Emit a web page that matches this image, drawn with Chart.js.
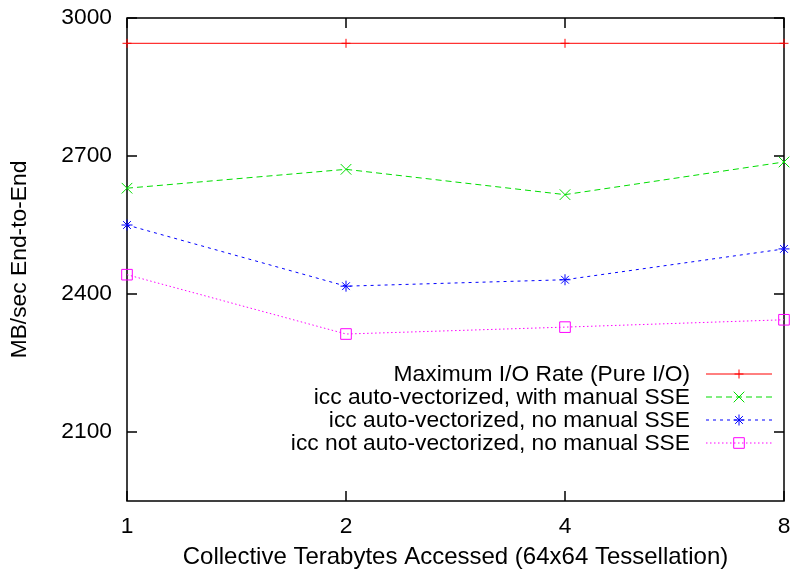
<!DOCTYPE html>
<html>
<head>
<meta charset="utf-8">
<script src="https://cdn.jsdelivr.net/npm/chart.js@4"></script>
<style>
  html, body { margin: 0; padding: 0; background: #fff; }
  #wrap { width: 800px; height: 581px; }
</style>
</head>
<body>
<div id="wrap"><canvas id="c" width="800" height="581"></canvas></div>
<script>
const categories = ['1', '2', '4', '8'];
const yTickValues = [2100, 2400, 2700, 3000];
const maxIO = [2945, 2945, 2945, 2945];
const autoVecManual = [2630, 2671, 2616, 2687];
const autoVecNoManual = [2550, 2417, 2431, 2498];
const notAutoVec = [2442, 2313, 2328, 2344];
const seriesLabels = [
  'Maximum I/O Rate (Pure I/O)',
  'icc auto-vectorized, with manual SSE',
  'icc auto-vectorized, no manual SSE',
  'icc not auto-vectorized, no manual SSE'
];
const xTitle = 'Collective Terabytes Accessed (64x64 Tessellation)';
const yTitle = 'MB/sec End-to-End';

const FONT = '"Liberation Sans", Arial, Helvetica, sans-serif';
const FS = 22.8;

function ds(label, data, color, dash, style, radius) {
  return {
    label, data,
    borderColor: color, borderWidth: 1, borderDash: dash,
    pointStyle: style, pointRadius: radius, pointHoverRadius: radius,
    pointBorderColor: color, pointBackgroundColor: 'rgba(0,0,0,0)',
    pointBorderWidth: 1, fill: false, tension: 0, clip: false
  };
}

const framePlugin = {
  id: 'frame',
  beforeDatasetsDraw(chart) {
    const {ctx, chartArea: a, scales} = chart;
    ctx.save();
    ctx.strokeStyle = '#000';
    ctx.lineWidth = 1.5;
    ctx.strokeRect(a.left, a.top, a.right - a.left, a.bottom - a.top);
    const tl = 10;
    ctx.beginPath();
    yTickValues.forEach(v => {
      const y = scales.y.getPixelForValue(v);
      ctx.moveTo(a.left, y); ctx.lineTo(a.left + tl, y);
      ctx.moveTo(a.right, y); ctx.lineTo(a.right - tl, y);
    });
    categories.forEach((c, i) => {
      const x = scales.x.getPixelForValue(i);
      ctx.moveTo(x, a.bottom); ctx.lineTo(x, a.bottom - tl);
      ctx.moveTo(x, a.top); ctx.lineTo(x, a.top + tl);
    });
    ctx.stroke();
    ctx.restore();
  },
  afterDraw(chart) {
    const {ctx} = chart;
    const textRight = 690, lineL = 706, lineR = 772, markX = 739;
    const rows = [374, 397, 420, 443];
    ctx.save();
    ctx.font = FS + 'px ' + FONT;
    ctx.fillStyle = '#000';
    ctx.textAlign = 'right';
    ctx.textBaseline = 'middle';
    chart.data.datasets.forEach((d, i) => {
      const y = rows[i];
      ctx.fillText(d.label, textRight, y + 1);
      ctx.save();
      ctx.strokeStyle = d.borderColor;
      ctx.lineWidth = 1;
      ctx.setLineDash(d.borderDash || []);
      ctx.beginPath();
      ctx.moveTo(lineL, y); ctx.lineTo(lineR, y);
      ctx.stroke();
      ctx.setLineDash([]);
      ctx.fillStyle = 'rgba(0,0,0,0)';
      Chart.helpers.drawPoint(ctx, {
        pointStyle: d.pointStyle, radius: d.pointRadius, rotation: 0, borderWidth: 1
      }, markX, y);
      ctx.restore();
    });
    ctx.restore();
  }
};

new Chart(document.getElementById('c'), {
  type: 'line',
  data: {
    labels: categories,
    datasets: [
      ds(seriesLabels[0], maxIO, '#ff0000', [], 'cross', 4.5),
      ds(seriesLabels[1], autoVecManual, '#00dd00', [6, 4], 'crossRot', 7.5),
      ds(seriesLabels[2], autoVecNoManual, '#0000ff', [3, 4], 'star', 5.5),
      ds(seriesLabels[3], notAutoVec, '#ff00ff', [1.5, 2.5], 'rect', 7.5)
    ]
  },
  options: {
    responsive: false,
    animation: false,
    devicePixelRatio: 1,
    layout: { padding: { top: 18, right: 16, bottom: 0, left: 0 } },
    plugins: { legend: { display: false }, tooltip: { enabled: false } },
    scales: {
      x: {
        type: 'category', offset: false,
        grid: { display: false, drawTicks: false },
        border: { display: false },
        ticks: { color: '#000', font: { family: FONT, size: FS }, padding: 12, maxRotation: 0, autoSkip: false },
        title: { display: true, text: xTitle, color: '#000', font: { family: FONT, size: 24 }, padding: { top: 0, bottom: 9 } },
        afterFit(s) { s.height = 80; s.paddingLeft = 0; s.paddingRight = 0; }
      },
      y: {
        type: 'linear', min: 1950, max: 3000,
        grid: { display: false, drawTicks: false },
        border: { display: false },
        ticks: { color: '#000', font: { family: FONT, size: FS }, padding: 15, callback: v => String(v) },
        afterBuildTicks(s) { s.ticks = yTickValues.map(v => ({ value: v })); },
        title: { display: true, text: yTitle, color: '#000', font: { family: FONT, size: FS }, padding: { top: 6, bottom: 0 } },
        afterFit(s) { s.width = 127; s.paddingTop = 0; s.paddingBottom = 0; }
      }
    }
  },
  plugins: [framePlugin]
});
</script>
</body>
</html>
